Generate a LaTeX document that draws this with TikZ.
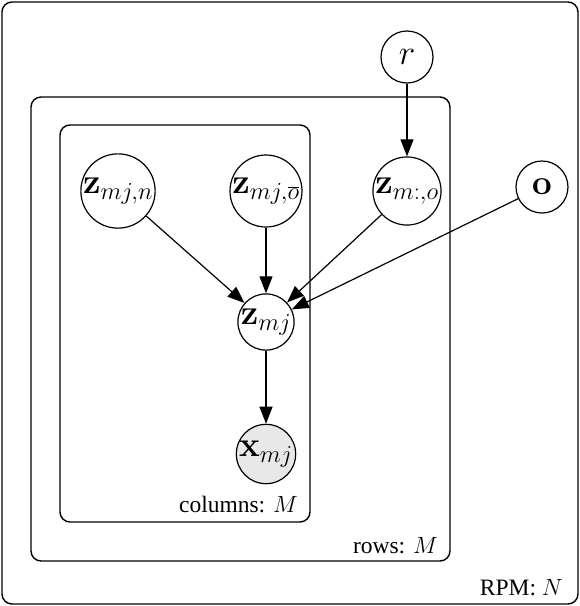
\RequirePackage{fix-cm}
\documentclass[tikz,border=0pt]{standalone}
\usepackage[no-math]{fontspec}
\setmainfont{Liberation Serif}
\usetikzlibrary{arrows.meta}
\begin{document}
\begin{tikzpicture}[x=1pt,y=-1pt,
  plate/.style={draw,line width=1.4pt,rounded corners=10pt},
  var/.style={circle,draw,line width=1.2pt,inner sep=0pt,font=\fontsize{35}{40}\selectfont},
  obs/.style={var,fill=gray!18},
  edge/.style={-{Triangle[length=17pt,width=13pt]},line width=1.2pt},
  lab/.style={anchor=base east,inner sep=0pt,font=\fontsize{23.5}{28}\selectfont}]
\useasboundingbox (0,0) rectangle (580,606);
\draw[plate] (2,2) rectangle (578,604);
\draw[plate] (31,97) rectangle (450,561);
\draw[plate] (60,125) rectangle (310,522);
\node[lab] (lcol) at (298,512) {columns: $M$};
\node[lab] (lrow) at (438,553) {rows: $M$};
\node[lab] (lrpm) at (563,595) {RPM: $N$};
\node[var,minimum size=70pt] (zn) at (118,191) {$\mathbf{z}_{mj,n}$};
\node[var,minimum size=72pt] (zo) at (266,191) {$\mathbf{z}_{mj,\overline{o}}$};
\node[var,minimum size=68pt] (zmo) at (407,191) {$\mathbf{z}_{m:,o}$};
\node[var,minimum size=52pt] (r) at (407,57) {$r$};
\node[var,minimum size=52pt] (o) at (542,187) {$\mathbf{o}$};
\node[var,minimum size=56pt] (z) at (266,322) {$\mathbf{z}_{mj}$};
\node[obs,minimum size=56pt] (x) at (266,454) {$\mathbf{x}_{mj}$};
\draw[edge] (r) -- (zmo);
\draw[edge] (zn) -- (z);
\draw[edge] (zo) -- (z);
\draw[edge] (zmo) -- (z);
\draw[edge] (o) -- (z);
\draw[edge] (z) -- (x);
\end{tikzpicture}
\end{document}
